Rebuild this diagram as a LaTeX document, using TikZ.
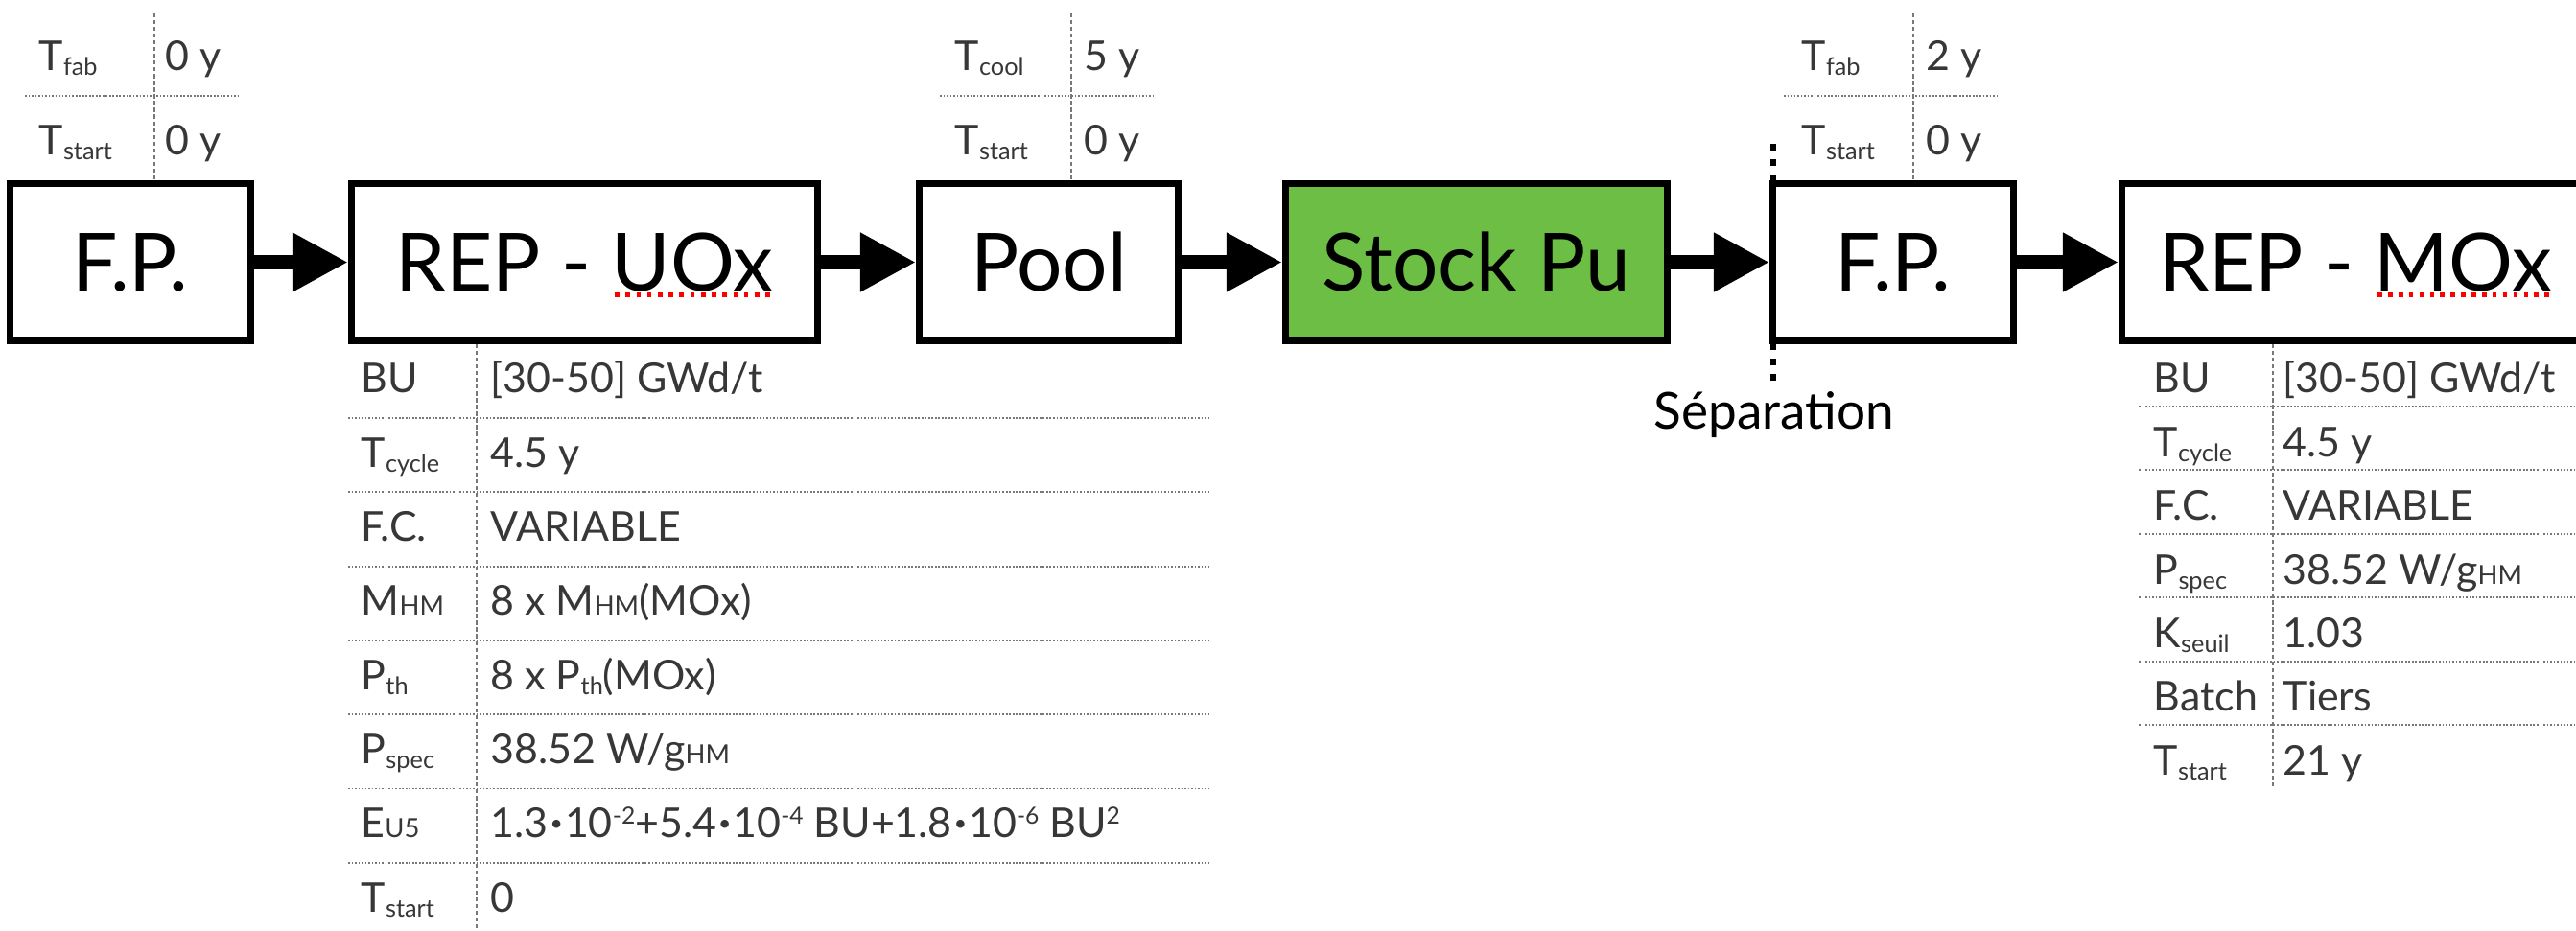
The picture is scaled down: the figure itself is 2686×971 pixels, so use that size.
\documentclass[tikz,border=0pt]{standalone}
\usepackage{fontspec}
\setmainfont{Lato}
\usetikzlibrary{arrows.meta}

\definecolor{stockgreen}{RGB}{108,190,69}
\definecolor{tabtext}{RGB}{55,55,55}
\definecolor{ruler}{RGB}{120,120,120}

% type sizes
\newcommand\stagefont{\fontsize{23.8pt}{28pt}\selectfont}
\newcommand\tabfont{\fontsize{12.2pt}{14pt}\selectfont}
\newcommand\sepfont{\fontsize{15.1pt}{18pt}\selectfont}
% indices: lowered, on the baseline, raised
\newcommand\lowsub[1]{\raisebox{-1.4pt}{\fontsize{7.2pt}{8pt}\selectfont #1}}
\newcommand\smallidx[1]{{\fontsize{7.8pt}{8pt}\selectfont #1}}
\newcommand\highsup[1]{\raisebox{4.0pt}{\fontsize{7pt}{8pt}\selectfont #1}}
% multiplication dot
\newcommand\mdot{\hspace{0.6pt}\raisebox{2.2pt}{\fontsize{6.5pt}{7pt}\selectfont •}\hspace{0.6pt}}
% red dotted spelling mark under a word
\newcommand\spellmark[1]{\setbox0\hbox{#1}\rlap{\raisebox{-1.8pt}{\color{red}\xleaders\hbox to 3.07pt{\hss\rule{1.3pt}{1.3pt}\hss}\hskip\wd0}}\box0}

\tikzset{
  stage/.style={draw=black, line width=2pt, fill=white, minimum height=1.64cm,
    inner sep=0pt, text height=17.07pt, text depth=0pt, font=\stagefont},
  flow/.style={line width=4pt, -{Triangle[length=16.5pt,width=16.5pt]}},
  lab/.style={anchor=base west, inner sep=0pt, font=\tabfont, text=tabtext},
  rowline/.style={draw=ruler, line width=0.55pt, dash pattern=on 0.5pt off 0.5pt},
  colline/.style={draw=ruler, line width=0.4pt, dash pattern=on 1.2pt off 0.8pt},
  sepline/.style={line width=1.5pt, dash pattern=on 2pt off 2.55pt},
}

\begin{document}
\begin{tikzpicture}[x=0.01cm, y=-0.01cm]
\useasboundingbox (0,0) rectangle (2686,971);

% ---- process chain ----
\node[stage, minimum width=2.51cm] (fpa) at (136,273.5) {F.P.};
\node[stage, minimum width=4.86cm] (uox) at (609.5,273.5) {REP - \spellmark{UOx}};
\node[stage, minimum width=2.70cm] (pool) at (1093.5,273.5) {Pool};
\node[stage, minimum width=3.98cm, fill=stockgreen] (stock) at (1539.5,273.5) {Stock Pu};
\node[stage, minimum width=2.51cm] (fpb) at (1974,273.5) {F.P.};
\node[stage, minimum width=4.87cm] (mox) at (2456,273.5) {REP - \spellmark{MOx}};

\draw[flow] (fpa) -- (uox);
\draw[flow] (uox) -- (pool);
\draw[flow] (pool) -- (stock);
\draw[flow] (stock) -- (fpb);
\draw[flow] (fpb) -- (mox);

% ---- separation mark ----
\coordinate (septop) at (1849,150);
\coordinate (sepbot) at (1849,405);
\draw[sepline] (septop) -- (sepbot);
\node[anchor=base, inner sep=0pt, font=\sepfont] (septxt) at (1850,448) {Séparation};

% ---- small tables above the chain ----
% fabrication (first)
\draw[colline] (161,14) -- (fpa.north -| 161,0);
\draw[rowline] (26,100) -- (248,100);
\node[lab] (fpa-l1) at (40,74) {T\lowsub{fab}};
\node[lab] (fpa-v1) at (172,74) {0 y};
\node[lab] (fpa-l2) at (40,162) {T\lowsub{start}};
\node[lab] (fpa-v2) at (172,162) {0 y};
% pool
\draw[colline] (1117,14) -- (pool.north -| 1117,0);
\draw[rowline] (980,100) -- (1203,100);
\node[lab] (pool-l1) at (995,74) {T\lowsub{cool}};
\node[lab] (pool-v1) at (1130,74) {5 y};
\node[lab] (pool-l2) at (995,162) {T\lowsub{start}};
\node[lab] (pool-v2) at (1130,162) {0 y};
% fabrication (second)
\draw[colline] (1995,14) -- (fpb.north -| 1995,0);
\draw[rowline] (1860,100) -- (2082,100);
\node[lab] (fpb-l1) at (1878,74) {T\lowsub{fab}};
\node[lab] (fpb-v1) at (2008,74) {2 y};
\node[lab] (fpb-l2) at (1878,162) {T\lowsub{start}};
\node[lab] (fpb-v2) at (2008,162) {0 y};

% ---- UOx reactor parameters ----
\draw[colline] (uox.south -| 497,0) -- (497,971);
\foreach \k in {0,...,6}
  \draw[rowline] (363,436+77.3*\k) -- (1260,436+77.3*\k);
\node[lab] (u-l0) at (376,410.0) {BU};
\node[lab] (u-v0) at (511,410.0) {[30-50] GWd/t};
\node[lab] (u-l1) at (376,487.3) {T\lowsub{cycle}};
\node[lab] (u-v1) at (511,487.3) {4.5 y};
\node[lab] (u-l2) at (376,564.6) {F.C.};
\node[lab] (u-v2) at (511,564.6) {VARIABLE};
\node[lab] (u-l3) at (376,641.9) {M\smallidx{HM}};
\node[lab] (u-v3) at (511,641.9) {8 x M\smallidx{HM}(MOx)};
\node[lab] (u-l4) at (376,719.2) {P\lowsub{th}};
\node[lab] (u-v4) at (511,719.2) {8 x P\lowsub{th}(MOx)};
\node[lab] (u-l5) at (376,796.5) {P\lowsub{spec}};
\node[lab] (u-v5) at (511,796.5) {38.52 W/g\smallidx{HM}};
\node[lab] (u-l6) at (376,873.8) {E\smallidx{U5}};
\node[lab] (u-v6) at (511,873.8) {1.3\mdot 10\highsup{-2}+5.4\mdot 10\highsup{-4} BU+1.8\mdot 10\highsup{-6} BU\highsup{2}};
\node[lab] (u-l7) at (376,951.1) {T\lowsub{start}};
\node[lab] (u-v7) at (511,951.1) {0};

% ---- MOx reactor parameters ----
\draw[colline] (mox.south -| 2370,0) -- (2370,823);
\foreach \k in {0,...,5}
  \draw[rowline] (2230,424+66.4*\k) -- (2686,424+66.4*\k);
\node[lab] (m-l0) at (2245,410.0) {BU};
\node[lab] (m-v0) at (2380,410.0) {[30-50] GWd/t};
\node[lab] (m-l1) at (2245,476.4) {T\lowsub{cycle}};
\node[lab] (m-v1) at (2380,476.4) {4.5 y};
\node[lab] (m-l2) at (2245,542.8) {F.C.};
\node[lab] (m-v2) at (2380,542.8) {VARIABLE};
\node[lab] (m-l3) at (2245,609.2) {P\lowsub{spec}};
\node[lab] (m-v3) at (2380,609.2) {38.52 W/g\smallidx{HM}};
\node[lab] (m-l4) at (2245,675.6) {K\lowsub{seuil}};
\node[lab] (m-v4) at (2380,675.6) {1.03};
\node[lab] (m-l5) at (2245,742.0) {Batch};
\node[lab] (m-v5) at (2380,742.0) {Tiers};
\node[lab] (m-l6) at (2245,808.4) {T\lowsub{start}};
\node[lab] (m-v6) at (2380,808.4) {21 y};
\end{tikzpicture}
\end{document}
